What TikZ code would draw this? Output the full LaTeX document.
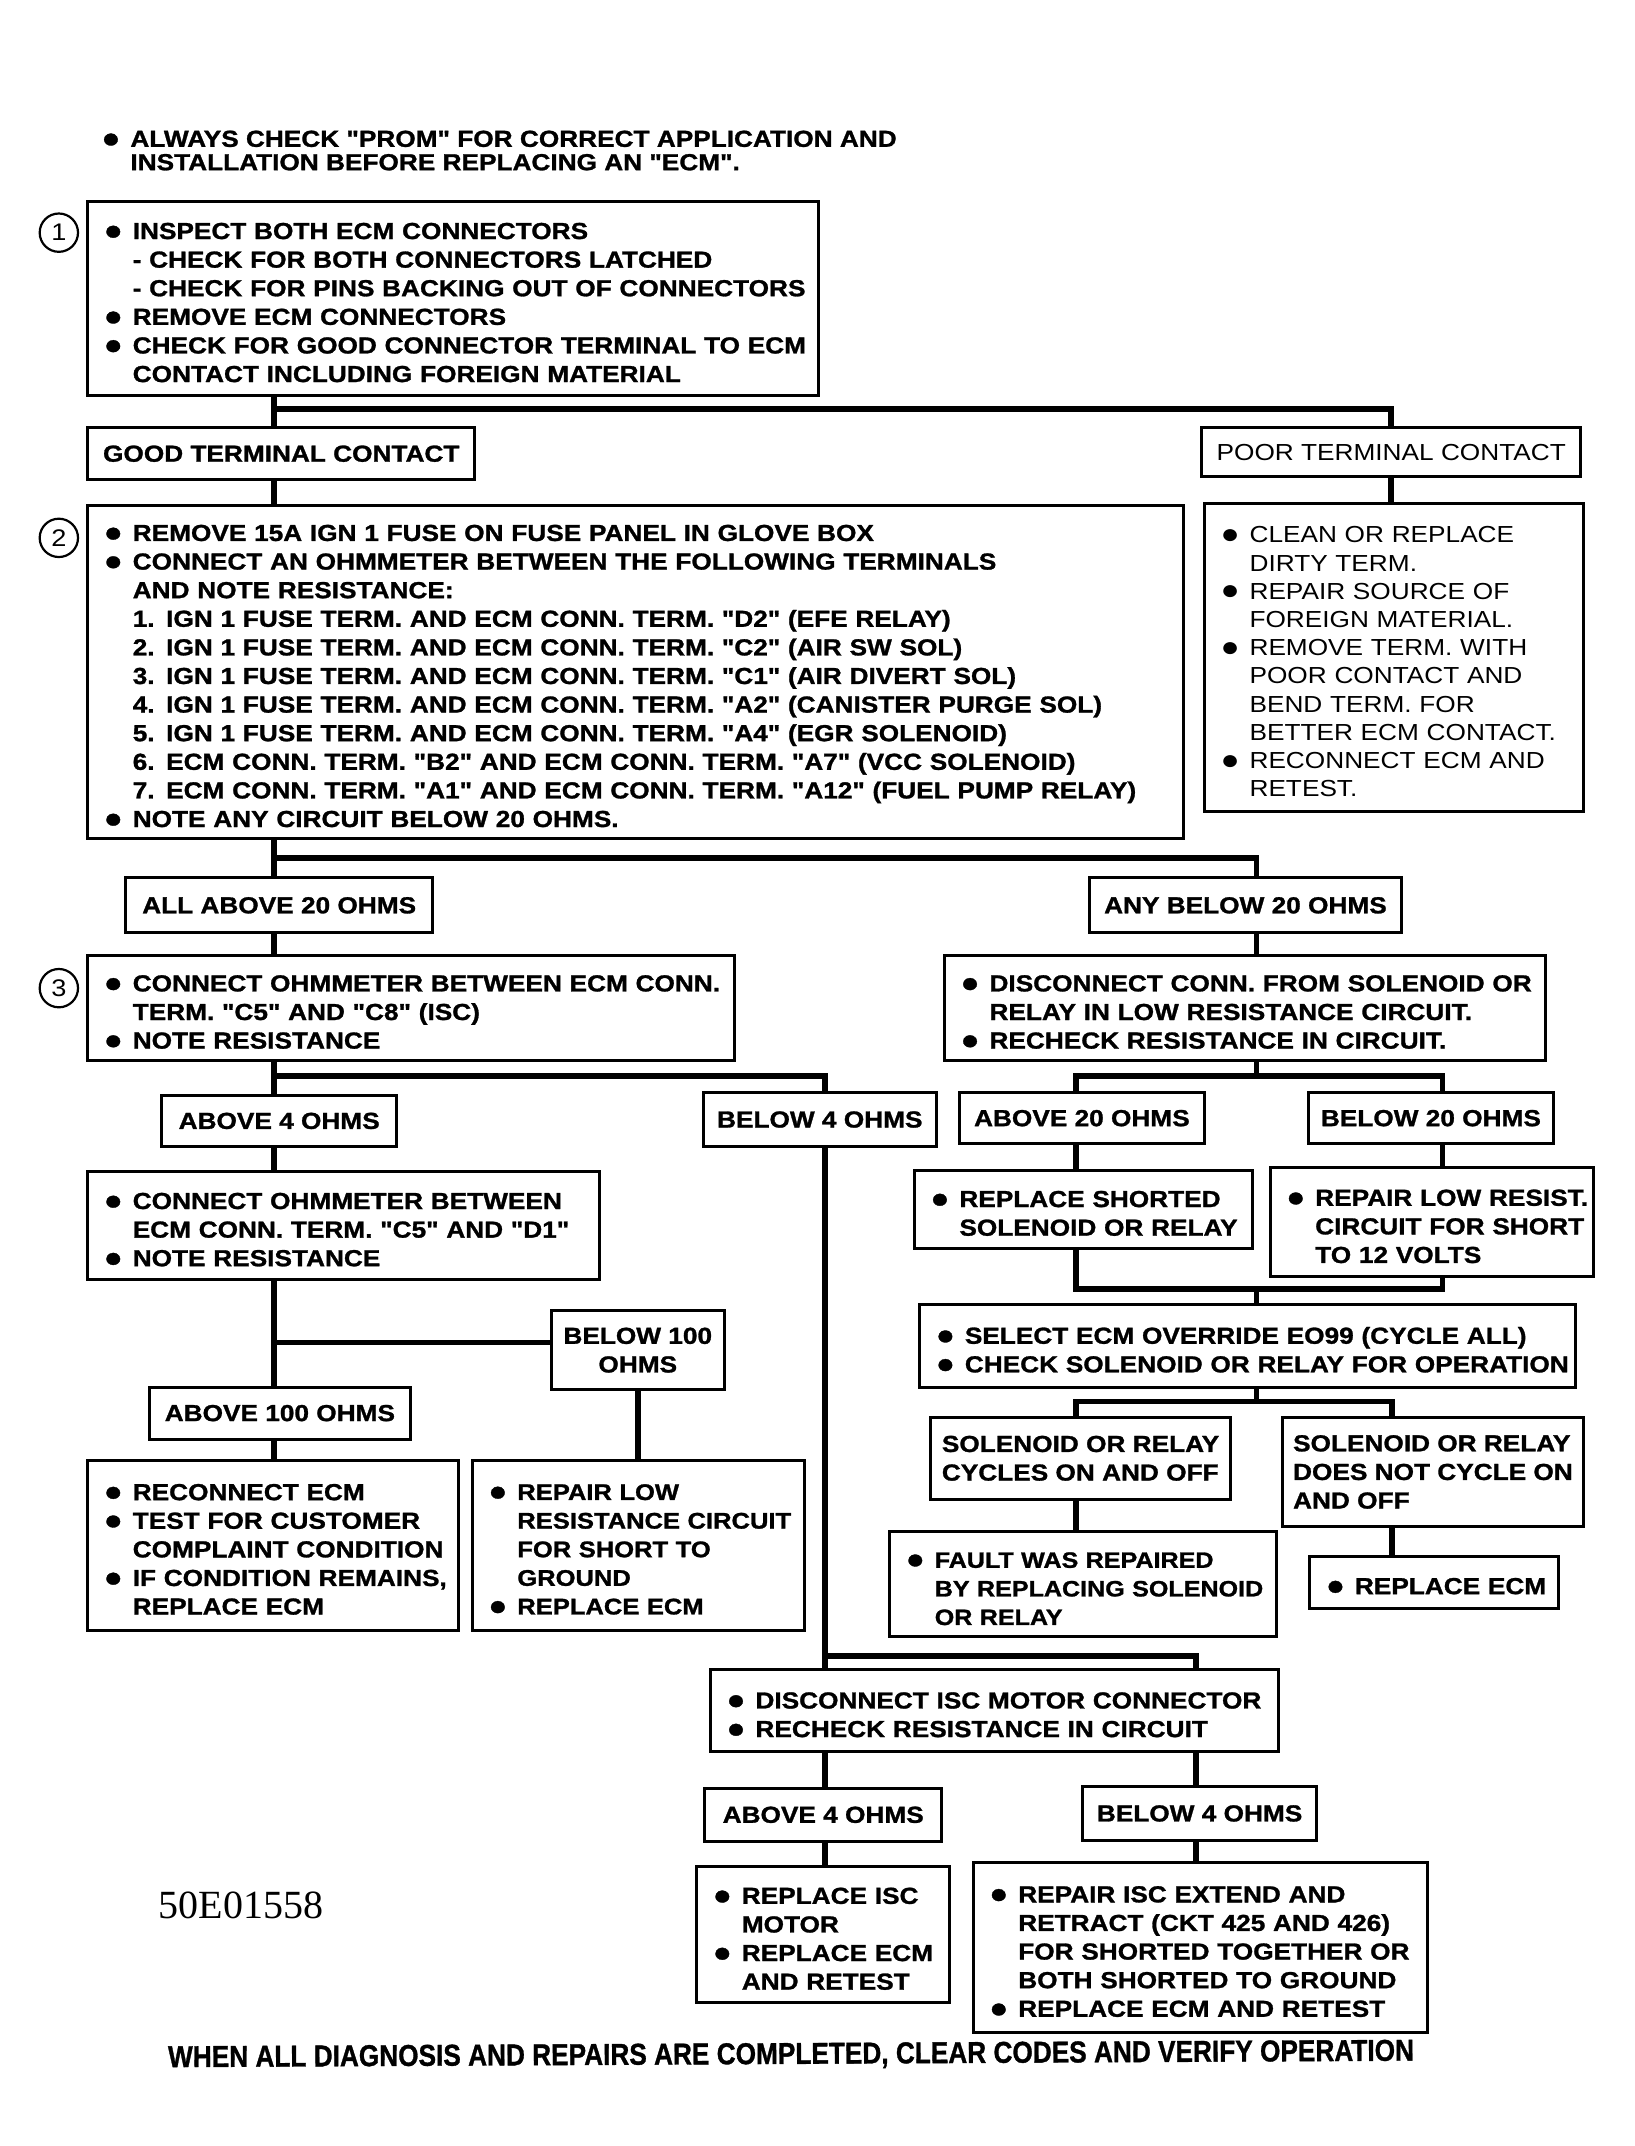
\documentclass[tikz,border=0pt]{standalone}
\usepackage{fontspec}
\setmainfont{Liberation Sans}[FakeStretch=1.13, Ligatures=TeXOff, BoldFeatures={FakeBold=1.2}]
\newfontfamily\serifz{Liberation Serif}
\newlength\pxu \setlength\pxu{0.6842pt}
\newcommand\fnt{\fontsize{11.6}{14.3}\selectfont\bfseries}
\newcommand\fntr{\fontsize{11.6}{14.1}\selectfont\mdseries}
\newcommand\bul{\makebox[18\pxu][l]{\hspace*{-2.2pt}\raisebox{-0.3pt}{\fontsize{14}{14}\selectfont ●}}}
\newcommand\lnB[1]{\mbox{\bul #1}}
\newcommand\lnC[1]{\mbox{\hspace*{18\pxu}#1}}
\newcommand\topstrut{\rule{0pt}{12.3pt}}
\tikzset{
  box/.style={draw, line width=1.5pt, inner ysep=0pt, inner xsep=15\pxu, align=left, font=\fnt, execute at begin node=\topstrut},
  lbl/.style={draw, line width=1.5pt, inner sep=0pt, align=center, font=\fnt},
  conn/.style={line width=2.8pt},
  num/.style={circle, draw, line width=1.1pt, minimum size=28\pxu, inner sep=0pt, font=\fontsize{12}{12}\selectfont\mdseries},
}
\newcommand\bx[7][]{%
  \pgfmathsetlengthmacro\bxtw{(#5-#3-30)*0.6842pt}%
  \pgfmathsetlengthmacro\bxmh{(#6-#4)*0.6842pt}%
  \node[box,text width=\bxtw,minimum height=\bxmh,#1] (#2) at ({(#3+#5)/2},{(#4+#6)/2}) {#7};}
\newcommand\lb[7][]{%
  \pgfmathsetlengthmacro\bxmw{(#5-#3)*0.6842pt}%
  \pgfmathsetlengthmacro\bxmh{(#6-#4)*0.6842pt}%
  \node[lbl,minimum width=\bxmw,minimum height=\bxmh,#1] (#2) at ({(#3+#5)/2},{(#4+#6)/2+1.5}) {#7};}
\begin{document}
\begin{tikzpicture}[x=0.6842pt,y=-0.6842pt]
\fill[white] (0,0) rectangle (1194,1568);
\useasboundingbox (0,0) rectangle (1194,1568);

% header note
\node[font=\fontsize{11.6}{11.7}\selectfont\bfseries, align=left, inner sep=0pt, anchor=west] (note) at (77,110)
  {\lnB{ALWAYS CHECK "PROM" FOR CORRECT APPLICATION AND}\\\lnC{INSTALLATION BEFORE REPLACING AN "ECM".}};

% step numbers
\node[num] (c1) at (43,170) {1};
\node[num] (c2) at (43,393) {2};
\node[num] (c3) at (43,722) {3};

% boxes
\bx{b1}{64}{147}{598}{289}{\lnB{INSPECT BOTH ECM CONNECTORS}\\\lnC{- CHECK FOR BOTH CONNECTORS LATCHED}\\\lnC{- CHECK FOR PINS BACKING OUT OF CONNECTORS}\\\lnB{REMOVE ECM CONNECTORS}\\\lnB{CHECK FOR GOOD CONNECTOR TERMINAL TO ECM}\\\lnC{CONTACT INCLUDING FOREIGN MATERIAL}}
\lb{good}{64}{311}{347}{349}{GOOD TERMINAL CONTACT}
\lb[font=\fntr]{poor}{878}{311}{1155}{347}{POOR TERMINAL CONTACT}
\bx{b2}{64}{369}{865}{613}{\lnB{REMOVE 15A IGN 1 FUSE ON FUSE PANEL IN GLOVE BOX}\\\lnB{CONNECT AN OHMMETER BETWEEN THE FOLLOWING TERMINALS}\\\lnC{AND NOTE RESISTANCE:}\\\lnC{1. IGN 1 FUSE TERM. AND ECM CONN. TERM. "D2" (EFE RELAY)}\\\lnC{2. IGN 1 FUSE TERM. AND ECM CONN. TERM. "C2" (AIR SW SOL)}\\\lnC{3. IGN 1 FUSE TERM. AND ECM CONN. TERM. "C1" (AIR DIVERT SOL)}\\\lnC{4. IGN 1 FUSE TERM. AND ECM CONN. TERM. "A2" (CANISTER PURGE SOL)}\\\lnC{5. IGN 1 FUSE TERM. AND ECM CONN. TERM. "A4" (EGR SOLENOID)}\\\lnC{6. ECM CONN. TERM. "B2" AND ECM CONN. TERM. "A7" (VCC SOLENOID)}\\\lnC{7. ECM CONN. TERM. "A1" AND ECM CONN. TERM. "A12" (FUEL PUMP RELAY)}\\\lnB{NOTE ANY CIRCUIT BELOW 20 OHMS.}}
\bx[font=\fntr]{poorbox}{880}{368}{1157}{593}{\lnB{CLEAN OR REPLACE}\\\lnC{DIRTY TERM.}\\\lnB{REPAIR SOURCE OF}\\\lnC{FOREIGN MATERIAL.}\\\lnB{REMOVE TERM. WITH}\\\lnC{POOR CONTACT AND}\\\lnC{BEND TERM. FOR}\\\lnC{BETTER ECM CONTACT.}\\\lnB{RECONNECT ECM AND}\\\lnC{RETEST.}}
\lb{allabove}{92}{640}{316}{680}{ALL ABOVE 20 OHMS}
\lb{anybelow}{796}{640}{1024}{680}{ANY BELOW 20 OHMS}
\bx{b3}{64}{698}{537}{775}{\lnB{CONNECT OHMMETER BETWEEN ECM CONN.}\\\lnC{TERM. "C5" AND "C8" (ISC)}\\\lnB{NOTE RESISTANCE}}
\bx{disc}{690}{698}{1129}{775}{\lnB{DISCONNECT CONN. FROM SOLENOID OR}\\\lnC{RELAY IN LOW RESISTANCE CIRCUIT.}\\\lnB{RECHECK RESISTANCE IN CIRCUIT.}}
\lb{above4}{118}{799}{290}{836}{ABOVE 4 OHMS}
\lb{below4}{514}{797}{684}{836}{BELOW 4 OHMS}
\lb{above20}{701}{797}{880}{834}{ABOVE 20 OHMS}
\lb{below20}{956}{797}{1135}{834}{BELOW 20 OHMS}
\bx{b4}{64}{856}{438}{935}{\lnB{CONNECT OHMMETER BETWEEN}\\\lnC{ECM CONN. TERM. "C5" AND "D1"}\\\lnB{NOTE RESISTANCE}}
\bx{replshort}{668}{855}{915}{912}{\lnB{REPLACE SHORTED}\\\lnC{SOLENOID OR RELAY}}
\bx{repairlow}{928}{853}{1164}{933}{\lnB{REPAIR LOW RESIST.}\\\lnC{CIRCUIT FOR SHORT}\\\lnC{TO 12 VOLTS}}
\lb{below100}{403}{956}{529}{1014}{BELOW 100\\OHMS}
\bx{select}{672}{953}{1151}{1014}{\lnB{SELECT ECM OVERRIDE EO99 (CYCLE ALL)}\\\lnB{CHECK SOLENOID OR RELAY FOR OPERATION}}
\lb{above100}{109}{1012}{300}{1050}{ABOVE 100 OHMS}
\lb[align=left]{cycles}{680}{1034}{899}{1094}{SOLENOID OR RELAY\\CYCLES ON AND OFF}
\lb[align=left]{notcycle}{937}{1034}{1157}{1114}{SOLENOID OR RELAY\\DOES NOT CYCLE ON\\AND OFF}
\bx{reconnect}{64}{1067}{335}{1191}{\lnB{RECONNECT ECM}\\\lnB{TEST FOR CUSTOMER}\\\lnC{COMPLAINT CONDITION}\\\lnB{IF CONDITION REMAINS,}\\\lnC{REPLACE ECM}}
\bx[font=\fontsize{11.3}{14.3}\selectfont\bfseries]{repairres}{345}{1067}{588}{1191}{\lnB{REPAIR LOW}\\\lnC{RESISTANCE CIRCUIT}\\\lnC{FOR SHORT TO}\\\lnC{GROUND}\\\lnB{REPLACE ECM}}
\bx[font=\fontsize{11.1}{14.3}\selectfont\bfseries]{fault}{650}{1119}{933}{1196}{\lnB{FAULT WAS REPAIRED}\\\lnC{BY REPLACING SOLENOID}\\\lnC{OR RELAY}}
\bx{replecm}{957}{1137}{1139}{1175}{\lnB{REPLACE ECM}}
\bx{isc}{519}{1220}{934}{1280}{\lnB{DISCONNECT ISC MOTOR CONNECTOR}\\\lnB{RECHECK RESISTANCE IN CIRCUIT}}
\lb{above4b}{515}{1305}{688}{1344}{ABOVE 4 OHMS}
\lb{below4b}{791}{1304}{962}{1343}{BELOW 4 OHMS}
\bx{replisc}{509}{1364}{694}{1463}{\lnB{REPLACE ISC}\\\lnC{MOTOR}\\\lnB{REPLACE ECM}\\\lnC{AND RETEST}}
\bx{repairisc}{711}{1361}{1043}{1485}{\lnB{REPAIR ISC EXTEND AND}\\\lnC{RETRACT (CKT 425 AND 426)}\\\lnC{FOR SHORTED TOGETHER OR}\\\lnC{BOTH SHORTED TO GROUND}\\\lnB{REPLACE ECM AND RETEST}}

% free texts
\node[font=\serifz\fontsize{20}{20}\selectfont, inner sep=0pt] (code) at (176,1392) {50E01558};
\node[font=\fontsize{11.6}{12}\selectfont\bfseries, inner sep=0pt, rotate=0.3] (final) at (578,1502)
  {\scalebox{1}[1.3]{WHEN ALL DIAGNOSIS AND REPAIRS ARE COMPLETED, CLEAR CODES AND VERIFY OPERATION}};

% junction coordinates
\coordinate (j1) at (200,299);
\coordinate (j2) at (200,627);
\coordinate (j3) at (918,627);
\coordinate (j4) at (200,786);
\coordinate (j5) at (603,786);
\coordinate (j6) at (603,1210);
\coordinate (j7) at (874,1210);
\coordinate (j8) at (786,786);
\coordinate (j9) at (1054,786);
\coordinate (j10) at (786,942);
\coordinate (j11) at (1054,942);
\coordinate (j12) at (786,1024);
\coordinate (j13) at (1017,1024);
\coordinate (j14) at (200,981);
\coordinate (j15) at (466,1040);

% connectors
\draw[conn] (b1.south -| j1) -- (good.north -| j1);
\draw[conn] (j1) -| (poor.north);
\draw[conn] (good.south -| j1) -- (b2.north -| j1);
\draw[conn] (poor.south) -- (poorbox.north -| poor.south);
\draw[conn] (b2.south -| j2) -- (allabove.north -| j2);
\draw[conn] (j2) -- (j3) -- (anybelow.north -| j3);
\draw[conn] (allabove.south -| j2) -- (b3.north -| j2);
\draw[conn] (anybelow.south -| j3) -- (disc.north -| j3);
\draw[conn] (b3.south -| j4) -- (above4.north -| j4);
\draw[conn] (j4) -- (j5) -- (below4.north -| j5);
\draw[conn] (above4.south -| j4) -- (b4.north -| j4);
\draw[conn] (below4.south -| j5) -- (isc.north -| j5);
\draw[conn] (j6) -- (j7) -- (isc.north -| j7);
\draw[conn] (disc.south -| j3) -- (j3 |- j8);
\draw[conn] (above20.north -| j8) -- (j8) -- (j9) -- (below20.north -| j9);
\draw[conn] (above20.south -| j8) -- (replshort.north -| j8);
\draw[conn] (below20.south -| j9) -- (repairlow.north -| j9);
\draw[conn] (replshort.south -| j10) -- (j10) -- (j11) -- (repairlow.south -| j11);
\draw[conn] (j3 |- j10) -- (select.north -| j3);
\draw[conn] (select.south -| j3) -- (j3 |- j12);
\draw[conn] (cycles.north -| j12) -- (j12) -- (j13) -- (notcycle.north -| j13);
\draw[conn] (cycles.south -| j12) -- (fault.north -| j12);
\draw[conn] (notcycle.south -| j13) -- (replecm.north -| j13);
\draw[conn] (b4.south -| j14) -- (above100.north -| j14);
\draw[conn] (j14) -- (below100.west |- j14);
\draw[conn] (above100.south -| j14) -- (reconnect.north -| j14);
\draw[conn] (below100.south -| j15) -- (repairres.north -| j15);
\draw[conn] (isc.south -| j5) -- (above4b.north -| j5);
\draw[conn] (isc.south -| j7) -- (below4b.north -| j7);
\draw[conn] (above4b.south -| j5) -- (replisc.north -| j5);
\draw[conn] (below4b.south -| j7) -- (repairisc.north -| j7);
\end{tikzpicture}
\end{document}
